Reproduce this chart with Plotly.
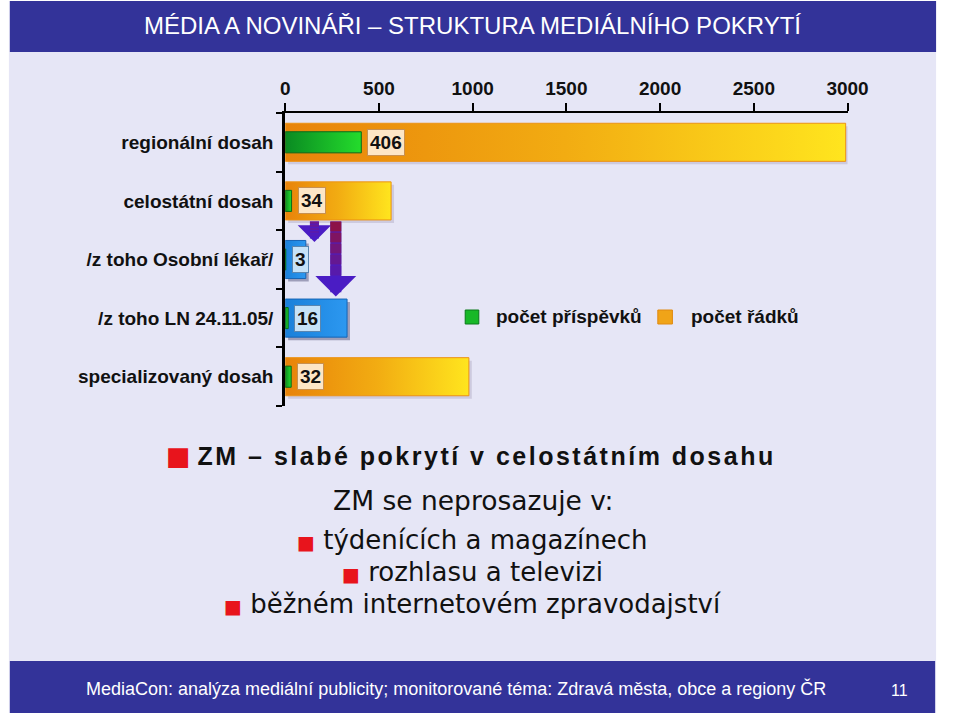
import plotly.graph_objects as go

# ---------------- data ----------------
categories = ["regionální dosah", "celostátní dosah", "/z toho Osobní lékař/",
              "/z toho LN 24.11.05/", "specializovaný dosah"]
contributions = [406, 34, 3, 16, 32]        # počet příspěvků
line_counts = [2990, 565, 110, 330, 980]    # počet řádků
is_subset = [False, False, True, True, False]
x_ticks = [0, 500, 1000, 1500, 2000, 2500, 3000]
series_names = ["počet příspěvků", "počet řádků"]

title_text = "MÉDIA A NOVINÁŘI – STRUKTURA MEDIÁLNÍHO POKRYTÍ"
footer_text = "MediaCon: analýza mediální publicity; monitorované téma: Zdravá města, obce a regiony ČR"
page_no = "11"
headline = "ZM – slabé pokrytí v celostátním dosahu"
sub_intro = "ZM se neprosazuje v:"
sub_items = ["týdenících a magazínech", "rozhlasu a televizi", "běžném internetovém zpravodajství"]

# ---------------- styles ----------------
W, H = 960, 716
LAV = "#E6E6F6"
NAVY = "#333399"
ORANGE_GRAD = [[0, "#E8830A"], [0.5, "#F2AC12"], [1, "#FFE51E"]]
BLUE_GRAD = [[0, "#1A80DA"], [1, "#2C98F0"]]
GREEN_GRAD = [[0, "#0A8A22"], [1, "#24DC2C"]]
BAR_H = 0.325
GREEN_H = 0.18
SANS = "Liberation Sans, Arial, sans-serif"
X_RANGE = [0, 3000]
X_DOM = [288 / W, 866 / W]
Y_DOM = [1 - 406 / H, 1 - 113 / H]


def py(p):
    return 1 - p / H


def px(p):
    return p / W


# pixel -> data conversions for small decorative offsets (shadows)
units_per_px_x = (X_RANGE[1] - X_RANGE[0]) / ((X_DOM[1] - X_DOM[0]) * W)
units_per_px_y = 5.0 / ((Y_DOM[1] - Y_DOM[0]) * H)

fig = go.Figure()


def bar_poly(i, v, half, grad, line_color, name, group):
    fig.add_trace(go.Scatter(
        x=[0, v, v, 0, 0],
        y=[i - half, i - half, i + half, i + half, i - half],
        mode="lines", fill="toself",
        line=dict(color=line_color, width=1),
        fillgradient=dict(type="horizontal", colorscale=grad),
        name=name, legendgroup=group, showlegend=False,
        hoverinfo="skip",
    ))


def shadow_poly(i, v, half, color):
    dx = 3 * units_per_px_x
    dy = 3 * units_per_px_y
    fig.add_trace(go.Scatter(
        x=[dx, v + dx, v + dx, dx, dx],
        y=[i - half + dy, i - half + dy, i + half + dy, i + half + dy, i - half + dy],
        mode="none", fill="toself", fillcolor=color,
        showlegend=False, hoverinfo="skip",
    ))


for i, v in enumerate(line_counts):
    shadow_poly(i, v, BAR_H, "rgba(70,70,110,0.45)" if is_subset[i] else "rgba(150,140,170,0.30)")

for i, v in enumerate(line_counts):
    if is_subset[i]:
        bar_poly(i, v, BAR_H, BLUE_GRAD, "#1664B4", series_names[1], "lines")
    else:
        bar_poly(i, v, BAR_H, ORANGE_GRAD, "#EC9214", series_names[1], "lines")

for i, v in enumerate(contributions):
    bar_poly(i, v, GREEN_H, GREEN_GRAD, "#0A6A1A", series_names[0], "contrib")

annotations = []
# value labels
for i, v in enumerate(contributions):
    annotations.append(dict(
        x=v, y=i, xref="x", yref="y", xanchor="left", yanchor="middle", xshift=6,
        text=f"<b>{v}</b>", showarrow=False,
        font=dict(family=SANS, size=19, color="#111111"),
        bgcolor="#C6E2F8" if is_subset[i] else "#FDE6C6",
        bordercolor="#5A86B0" if is_subset[i] else "#C89050",
        borderwidth=1, borderpad=2,
    ))


def mix(c1, c2, t):
    a = [int(c1[k:k + 2], 16) for k in (1, 3, 5)]
    b = [int(c2[k:k + 2], 16) for k in (1, 3, 5)]
    return "#" + "".join(f"{round(a[j] + (b[j] - a[j]) * t):02X}" for j in range(3))


# arrows from national reach to its subsets (gradient maroon -> violet)
for x_pos, tip_y, w, s, top_c in [(156, 1.70, 9, 0.62, "#70188C"), (270, 2.63, 11, 0.62, "#8C1248")]:
    tail = 1 + BAR_H
    bot_c = "#4A1CC4"
    annotations.append(dict(
        x=x_pos, y=tip_y, ax=x_pos, ay=tail, xref="x", yref="y",
        axref="x", ayref="y", text="", showarrow=True, arrowhead=1,
        arrowwidth=w, arrowsize=s, arrowcolor=bot_c, standoff=0,
    ))
    n = 5
    seg_end = tail + (tip_y - tail) * 0.72
    for k in range(n):
        y0 = tail + (seg_end - tail) * k / n
        y1 = tail + (seg_end - tail) * (k + 1) / n + 0.01
        annotations.append(dict(
            x=x_pos, y=y1, ax=x_pos, ay=y0, xref="x", yref="y",
            axref="x", ayref="y", text="", showarrow=True, arrowhead=0,
            arrowwidth=w, arrowcolor=mix(top_c, bot_c, k / n), standoff=0,
        ))

# legend (custom)
annotations += [
    dict(x=px(503), y=py(317), xref="paper", yref="paper", xanchor="left", yanchor="middle",
         text=f"<b>{series_names[0]}</b>", showarrow=False,
         font=dict(family=SANS, size=19, color="#111111")),
    dict(x=px(703), y=py(317), xref="paper", yref="paper", xanchor="left", yanchor="middle",
         text=f"<b>{series_names[1]}</b>", showarrow=False,
         font=dict(family=SANS, size=19, color="#111111")),
]

# title / footer
annotations += [
    dict(x=px(481), y=py(26), xref="paper", yref="paper", xanchor="center", yanchor="middle",
         text=title_text, showarrow=False,
         font=dict(family=SANS, size=24, color="white")),
    dict(x=px(464), y=py(688), xref="paper", yref="paper", xanchor="center", yanchor="middle",
         text=footer_text, showarrow=False,
         font=dict(family=SANS, size=18, color="white")),
    dict(x=px(919), y=py(690), xref="paper", yref="paper", xanchor="center", yanchor="middle",
         text=page_no, showarrow=False,
         font=dict(family=SANS, size=16, color="white")),
]

big_bullet = "<span style='font-family:DejaVu Sans;color:#E8141C;font-size:26px'>■</span> "
bullet = "<span style='color:#E8141C;font-size:19px'>■</span> "
annotations += [
    dict(x=px(479), y=py(456), xref="paper", yref="paper", xanchor="center", yanchor="middle",
         text=big_bullet + f"<b><span style='letter-spacing:2.5px'>{headline}</span></b>",
         showarrow=False,
         font=dict(family=SANS, size=25, color="#111111")),
    dict(x=px(481), y=py(500), xref="paper", yref="paper", xanchor="center", yanchor="middle",
         text=sub_intro, showarrow=False,
         font=dict(family="DejaVu Sans", size=26.5, color="#111111")),
]
for yy, item in zip([540, 572, 604], sub_items):
    annotations.append(dict(
        x=px(481), y=py(yy), xref="paper", yref="paper", xanchor="center", yanchor="middle",
        text=bullet + item, showarrow=False,
        font=dict(family="DejaVu Sans", size=26, color="#111111")))

shapes = [
    dict(type="rect", xref="paper", yref="paper", x0=px(4), x1=px(957), y0=py(713), y1=py(1),
         fillcolor=LAV, line=dict(width=0), layer="below"),
    dict(type="rect", xref="paper", yref="paper", x0=px(5), x1=px(957), y0=py(52), y1=py(1),
         fillcolor=NAVY, line=dict(width=0), layer="below"),
    dict(type="rect", xref="paper", yref="paper", x0=px(5), x1=px(956), y0=py(713), y1=py(661),
         fillcolor=NAVY, line=dict(width=0), layer="below"),
    # legend squares
    dict(type="rect", xref="paper", yref="paper", x0=px(473), x1=px(487), y0=py(324), y1=py(310),
         fillcolor="#18B828", line=dict(color="#0A7A1A", width=1)),
    dict(type="rect", xref="paper", yref="paper", x0=px(671), x1=px(686), y0=py(324), y1=py(310),
         fillcolor="#F0A418", line=dict(color="#E08A10", width=1)),
]

fig.update_layout(
    width=W, height=H,
    margin=dict(l=0, r=0, t=0, b=0),
    paper_bgcolor="white",
    plot_bgcolor="rgba(0,0,0,0)",
    showlegend=False,
    annotations=annotations,
    shapes=shapes,
    xaxis=dict(
        domain=X_DOM, range=X_RANGE, side="top",
        tickvals=x_ticks, ticktext=[str(t) for t in x_ticks],
        ticks="outside", ticklen=8, tickwidth=2, tickcolor="black",
        showline=True, linewidth=2, linecolor="black",
        showgrid=False, zeroline=False,
        tickfont=dict(family=SANS, size=19, color="#111111", weight="bold"),
        fixedrange=True,
    ),
    yaxis=dict(
        domain=Y_DOM, range=[4.5, -0.5],
        tickvals=list(range(len(categories))), ticktext=categories,
        ticks="", showline=True, linewidth=3, linecolor="black",
        showgrid=False, zeroline=False, ticklabelstandoff=5,
        tickfont=dict(family=SANS, size=19, color="#111111", weight="bold"),
        minor=dict(tickmode="array", tickvals=[k - 0.5 for k in range(len(categories) + 1)],
                   ticks="outside", ticklen=6, tickwidth=2, tickcolor="black", showgrid=False),
        fixedrange=True,
    ),
)

fig.write_html(
    "out.html",
    post_script="document.body.style.margin='0';document.body.style.overflow='hidden';"
                "document.documentElement.style.overflow='hidden';",
)
